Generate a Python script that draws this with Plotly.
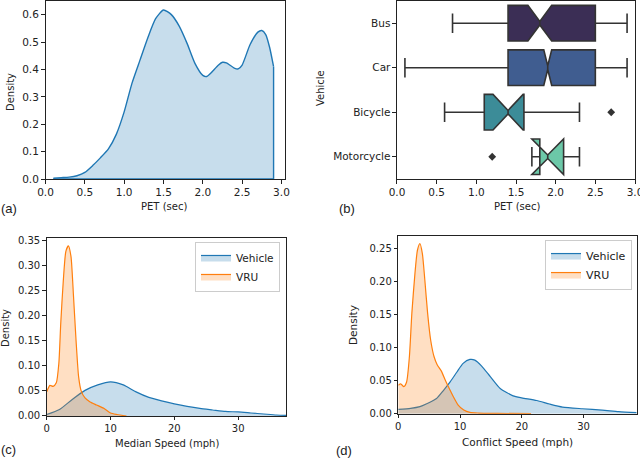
import plotly.graph_objects as go

# (a) PET density
pet_x = [0.1, 0.2, 0.3, 0.4, 0.5, 0.6, 0.7, 0.8, 0.9, 1.0, 1.1, 1.2, 1.3, 1.4, 1.5,
         1.6, 1.7, 1.8, 1.9, 2.0, 2.05, 2.1, 2.2, 2.25, 2.3, 2.4, 2.45, 2.5, 2.6,
         2.7, 2.75, 2.8, 2.85, 2.9]
pet_density = [0.003, 0.005, 0.007, 0.012, 0.024, 0.049, 0.078, 0.11, 0.163, 0.245,
               0.35, 0.433, 0.515, 0.585, 0.617, 0.6, 0.558, 0.495, 0.422, 0.378,
               0.374, 0.386, 0.416, 0.426, 0.424, 0.405, 0.402, 0.416, 0.49, 0.536,
               0.542, 0.527, 0.48, 0.41]

# (b) PET by vehicle type (box stats)
vehicles = ["Bus", "Car", "Bicycle", "Motorcycle"]
box_q1 = [1.4, 1.4, 1.1, 1.8]
box_median = [1.8, 1.9, 1.4, 1.9]
box_q3 = [2.5, 2.5, 1.6, 2.1]
box_low = [0.7, 0.1, 0.6, 1.8]
box_high = [2.9, 2.9, 2.3, 2.3]
box_notch = [0.15, 0.05, 0.19, 0.2]
box_colors = ["#3b2e55", "#405d90", "#3c8c98", "#6cc8a8"]
outlier_vehicle = ["Bicycle", "Motorcycle"]
outlier_pet = [2.7, 1.2]

# (c) median speed densities
med_veh_x = [0, 2, 4, 6, 8, 10, 12, 14, 16, 18, 20, 22, 24, 26, 28, 30, 32, 34, 36, 38]
med_veh_d = [0.003, 0.013, 0.033, 0.051, 0.062, 0.068, 0.062, 0.048, 0.037, 0.030,
             0.024, 0.019, 0.015, 0.012, 0.009, 0.008, 0.006, 0.004, 0.002, 0.001]
med_vru_x = [0, 0.5, 1.0, 1.5, 1.9, 2.2, 2.6, 3.0, 3.4, 3.8, 4.2, 4.6, 5.0, 5.4, 6.0,
             6.8, 7.8, 9.0, 10.0, 11.0, 12.5]
med_vru_d = [0.048, 0.061, 0.059, 0.066, 0.105, 0.185, 0.27, 0.328, 0.339, 0.318,
             0.238, 0.15, 0.078, 0.05, 0.036, 0.028, 0.022, 0.015, 0.006, 0.003, 0.0]

# (d) conflict speed densities
con_veh_x = [0, 2, 3.5, 4.6, 6.2, 7.3, 8.4, 9.5, 10.5, 11.6, 12.4, 13.5, 14.9, 16.5,
             18.6, 20, 22.4, 24.5, 26.6, 29.8, 33, 35.7, 38.6]
con_veh_d = [0.0066, 0.008, 0.0106, 0.015, 0.023, 0.035, 0.048, 0.063, 0.076, 0.082,
             0.081, 0.072, 0.056, 0.038, 0.027, 0.024, 0.02, 0.0146, 0.01, 0.0075,
             0.0055, 0.003, 0.0015]
con_vru_x = [0, 0.4, 0.9, 1.35, 1.8, 2.2, 2.7, 3.1, 3.5, 3.9, 4.3, 4.75, 5.25, 5.8,
             6.3, 7.0, 7.6, 8.1, 8.9, 9.7, 10.6, 11.6, 13, 16, 21.5]
con_vru_d = [0.043, 0.045, 0.041, 0.048, 0.086, 0.152, 0.212, 0.247, 0.257, 0.242,
             0.202, 0.152, 0.111, 0.086, 0.074, 0.064, 0.051, 0.041, 0.026, 0.013,
             0.0055, 0.002, 0.001, 0.0005, 0.0]

BLUE = "#1f77b4"
ORANGE = "#ff7f0e"
BLUE_FILL = "rgba(31,119,180,0.25)"
ORANGE_FILL = "rgba(255,127,14,0.25)"
EDGE = "#333333"
TXT = "#222222"

fig = go.Figure()

# (a)
fig.add_trace(go.Scatter(x=pet_x, y=pet_density, mode="lines", fill="tozeroy",
                         fillcolor=BLUE_FILL, line=dict(color=BLUE, width=1.4, shape="spline", smoothing=0.6),
                         showlegend=False, xaxis="x", yaxis="y"))
# closing edge of the filled area
fig.add_trace(go.Scatter(x=[pet_x[-1], pet_x[-1], pet_x[0]], y=[pet_density[-1], 0, 0],
                         mode="lines", line=dict(color=BLUE, width=1.4),
                         showlegend=False, xaxis="x", yaxis="y"))

# (b)
for i, v in enumerate(vehicles):
    fig.add_trace(go.Box(
        y=[v], q1=[box_q1[i]], median=[box_median[i]], q3=[box_q3[i]],
        lowerfence=[box_low[i]], upperfence=[box_high[i]], notchspan=[box_notch[i]],
        notched=True, notchwidth=0.45, orientation="h", whiskerwidth=0.55,
        fillcolor=box_colors[i], line=dict(color=EDGE, width=1.6),
        boxpoints=False, showlegend=False, xaxis="x2", yaxis="y2"))
fig.add_trace(go.Scatter(x=outlier_pet, y=outlier_vehicle, mode="markers",
                         marker=dict(symbol="diamond", size=6, color=EDGE),
                         showlegend=False, xaxis="x2", yaxis="y2"))

# (c)
fig.add_trace(go.Scatter(x=med_veh_x, y=med_veh_d, mode="lines", fill="tozeroy", name="Vehicle",
                         fillcolor=BLUE_FILL, line=dict(color=BLUE, width=1.2, shape="spline", smoothing=0.6),
                         legend="legend", xaxis="x3", yaxis="y3"))
fig.add_trace(go.Scatter(x=med_vru_x, y=med_vru_d, mode="lines", fill="tozeroy", name="VRU",
                         fillcolor=ORANGE_FILL, line=dict(color=ORANGE, width=1.2, shape="spline", smoothing=0.6),
                         legend="legend", xaxis="x3", yaxis="y3"))

# (d)
fig.add_trace(go.Scatter(x=con_veh_x, y=con_veh_d, mode="lines", fill="tozeroy", name="Vehicle",
                         fillcolor=BLUE_FILL, line=dict(color=BLUE, width=1.2, shape="spline", smoothing=0.6),
                         legend="legend2", xaxis="x4", yaxis="y4"))
fig.add_trace(go.Scatter(x=con_vru_x, y=con_vru_d, mode="lines", fill="tozeroy", name="VRU",
                         fillcolor=ORANGE_FILL, line=dict(color=ORANGE, width=1.2, shape="spline", smoothing=0.6),
                         legend="legend2", xaxis="x4", yaxis="y4"))

ax = dict(showline=True, mirror=True, linecolor="#222222", linewidth=1, ticks="outside",
          ticklen=3.5, tickcolor="#222222", showgrid=False, zeroline=False, automargin=False,
          ticklabeloverflow="allow", tickfont=dict(family="DejaVu Sans", size=10, color=TXT))
big = dict(tickfont=dict(family="DejaVu Sans", size=10.5, color=TXT))

fig.update_layout(
    width=640, height=459, margin=dict(l=0, r=0, t=0, b=0, autoexpand=False),
    plot_bgcolor="white", paper_bgcolor="white", boxgap=0.2, boxgroupgap=0,
    font=dict(family="DejaVu Sans", size=10, color=TXT),
    xaxis=dict(ax, **big, domain=[0.0711, 0.4453], range=[0, 3.045],
               tickvals=[0, 0.5, 1, 1.5, 2, 2.5, 3], tickformat=".1f", anchor="y"),
    yaxis=dict(ax, **big, domain=[0.61, 0.998], range=[0, 0.65], dtick=0.1, tickformat=".1f", anchor="x"),
    xaxis2=dict(ax, **big, domain=[0.6203, 0.9922], range=[0, 3.0],
                tickvals=[0, 0.5, 1, 1.5, 2, 2.5, 3], tickformat=".1f", anchor="y2"),
    yaxis2=dict(ax, **big, domain=[0.61, 0.998], type="category", categoryorder="array",
                categoryarray=vehicles[::-1], range=[-0.5, 3.5], anchor="x2"),
    xaxis3=dict(ax, domain=[0.073, 0.4469], range=[0, 37.5], tickvals=[0, 10, 20, 30], anchor="y3"),
    yaxis3=dict(ax, domain=[0.0937, 0.4808], range=[0, 0.354], dtick=0.05, tickformat=".2f", anchor="x3"),
    xaxis4=dict(ax, domain=[0.6223, 0.9948], range=[0, 38.6], tickvals=[0, 10, 20, 30], anchor="y4"),
    yaxis4=dict(ax, domain=[0.0987, 0.4865], range=[0, 0.269], dtick=0.05, tickformat=".2f", anchor="x4"),
    legend=dict(x=0.4375, y=0.4728, xanchor="right", yanchor="top", bgcolor="white",
                bordercolor="#cccccc", borderwidth=1, font=dict(size=10.5), tracegroupgap=0,
                itemwidth=30),
    legend2=dict(x=0.9875, y=0.477, xanchor="right", yanchor="top", bgcolor="white",
                 bordercolor="#cccccc", borderwidth=1, font=dict(size=11), tracegroupgap=0,
                 itemwidth=30),
)

# axis titles and panel labels
notes = [
    ("Density", 10, 92, 90, 10, "DejaVu Sans"),
    ("PET (sec)", 164, 207, 0, 10, "DejaVu Sans"),
    ("(a)", 9, 208, 0, 13, "Liberation Sans"),
    ("Vehicle", 320, 88, 90, 10, "DejaVu Sans"),
    ("PET (sec)", 517, 207, 0, 10, "DejaVu Sans"),
    ("(b)", 347, 208, 0, 13, "Liberation Sans"),
    ("Density", 5, 328, 90, 10, "DejaVu Sans"),
    ("Median Speed (mph)", 167, 443, 0, 10, "DejaVu Sans"),
    ("(c)", 8, 449, 0, 13, "Liberation Sans"),
    ("Density", 353, 325, 90, 10.5, "DejaVu Sans"),
    ("Conflict Speed (mph)", 517, 442, 0, 10.5, "DejaVu Sans"),
    ("(d)", 344, 450, 0, 13, "Liberation Sans"),
]
for text, px, py, rot, size, fam in notes:
    fig.add_annotation(text=text, x=px / 640, y=1 - py / 459, xref="paper", yref="paper",
                       showarrow=False, textangle=-rot, xanchor="center", yanchor="middle",
                       font=dict(family=fam, size=size, color=TXT))

# page has a default 8px body margin; drop it so the figure fills the window
fig.write_html("out.html", config={"displayModeBar": False},
               post_script="document.body.style.margin = '0';")
